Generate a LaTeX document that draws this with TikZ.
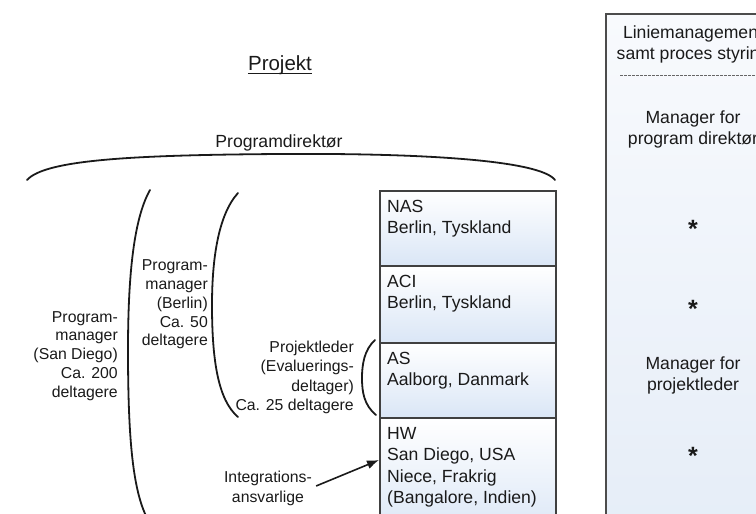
\documentclass[tikz,border=0pt]{standalone}
\usepackage{fontspec}
\setmainfont{Liberation Sans}
\usetikzlibrary{arrows.meta}
\definecolor{boxblue}{RGB}{218,230,246}
\definecolor{paneltop}{RGB}{248,250,253}
\definecolor{panelbot}{RGB}{228,236,247}
\definecolor{inkc}{RGB}{26,26,26}
\tikzset{
  brace/.style={line width=1.8pt, draw=inkc, line cap=round},
  loc/.style={draw=black!75, line width=1.6pt, top color=white, bottom color=boxblue,
    minimum width=176pt, anchor=north west, inner sep=0pt},
  loctext/.style={anchor=north west, align=left, inner sep=0pt,
    font=\fontsize{17.6}{21.5}\selectfont, text=inkc},
  lbl/.style={inner sep=0pt, font=\fontsize{15.8}{18.8}\selectfont, text=inkc},
  pnl/.style={align=center, inner sep=0pt, font=\fontsize{17.6}{21}\selectfont, text=inkc},
  starmark/.style={inner sep=0pt, font=\fontsize{25}{25}\selectfont\bfseries, text=inkc},
  ttl/.style={inner sep=0pt, text=inkc},
}
\begin{document}
\begin{tikzpicture}[x=1pt,y=-1pt]
\useasboundingbox (0,0) rectangle (756,514);
\clip (0,0) rectangle (756,514);

% title
\node[ttl, anchor=base, font=\fontsize{20.5}{24}\selectfont] (title) at (280,70) {Projekt};
\draw[inkc, line width=1pt] ([yshift=-3pt]title.base west) -- ([yshift=-3pt]title.base east);

\node[ttl, anchor=base, font=\fontsize{17.6}{21}\selectfont] (pd) at (279,147.5) {Programdirekt\o r};

% top brace
\draw[brace] (27,180) .. controls (45,160) and (130,155) .. (280,154)
             .. controls (420,153) and (540,160) .. (555,180);

% location boxes
\node[loc, minimum height=75pt] (nas) at (379,190) {};
\node[loc, minimum height=77pt] (aci) at (379,265) {};
\node[loc, minimum height=75pt] (as) at (379,342) {};
\node[loc, minimum height=120pt] (hw) at (379,417) {};

\node[loctext] (nasT) at ([xshift=8pt,yshift=-10pt]nas.north west) {NAS\\Berlin, Tyskland};
\node[loctext] (aciT) at ([xshift=8pt,yshift=-10pt]aci.north west) {ACI\\Berlin, Tyskland};
\node[loctext] (asT) at ([xshift=8pt,yshift=-10pt]as.north west) {AS\\Aalborg, Danmark};
\node[loctext] (hwT) at ([xshift=8pt,yshift=-10pt]hw.north west) {HW\\San Diego, USA\\Niece, Frakrig\\(Bangalore, Indien)};

% braces
\draw[brace] (150,190) .. controls (133,220) and (128,280) .. (128,350)
             .. controls (128,440) and (133,490) .. (147,518);
\draw[brace] (238,193) .. controls (218,215) and (212,260) .. (212,305)
             .. controls (212,360) and (218,400) .. (238,417);
\draw[brace] (375,340) .. controls (364,350) and (362,365) .. (362,378)
             .. controls (362,392) and (364,405) .. (376,415);

% brace labels
\node[lbl, anchor=east, align=right] (pmsd) at (118,356) {Program-\\manager\\(San Diego)\\Ca. 200\\deltagere};
\node[lbl, anchor=east, align=right] (pmb) at (208,304.5) {Program-\\manager\\(Berlin)\\Ca. 50\\deltagere};
\node[lbl, anchor=east, align=right, font=\fontsize{15.8}{19.3}\selectfont] (pl) at (354,377.5) {Projektleder\\(Evaluerings-\\deltager)\\Ca. 25 deltagere};
\node[lbl, align=center, font=\fontsize{15.8}{20}\selectfont] (integ) at (268,488) {Integrations-\\ansvarlige};

\coordinate (arrowtip) at (379,460);
\draw[line width=1.6pt, inkc, -{Latex[length=12pt,width=9pt]}] ([xshift=4pt,yshift=2pt]integ.east) -- (arrowtip);

% right panel
\node[draw=black!70, line width=2.2pt, top color=paneltop, bottom color=panelbot,
      anchor=north west, minimum width=176pt, minimum height=560pt, inner sep=0pt] (panel) at (605,13) {};
\node[pnl, anchor=north] (lm) at (693,25.7) {Liniemanagement\\samt proces styring};
\coordinate (dashL) at (620,75);
\coordinate (dashR) at (775,75);
\draw[black!60, line width=0.7pt, dash pattern=on 2.5pt off 1.5pt] (dashL) -- (dashR);
\node[pnl, anchor=north] (mpd) at (693,110.5) {Manager for\\program direkt\o r};
\node[starmark, anchor=base] (s1) at (693,237) {*};
\node[starmark, anchor=base] (s2) at (693,317) {*};
\node[pnl, anchor=north] (mpl) at (693,356.7) {Manager for\\projektleder};
\node[starmark, anchor=base] (s3) at (693,464) {*};
\end{tikzpicture}
\end{document}
